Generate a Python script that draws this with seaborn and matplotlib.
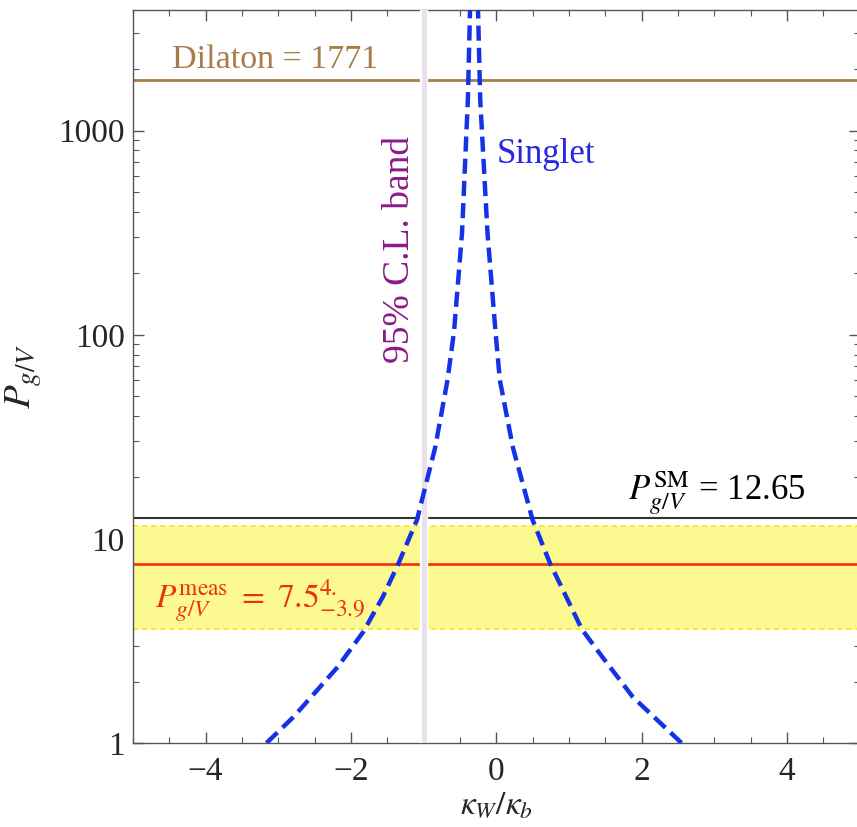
import numpy as np
import pandas as pd
import seaborn as sns
import matplotlib
matplotlib.use("Agg")
import matplotlib.pyplot as plt
from matplotlib.ticker import MultipleLocator, LogLocator, NullFormatter, FixedLocator

# ---- data ----
left_x = [-3.16, -2.79, -2.46, -2.18, -1.83, -1.56, -1.35, -1.09, -0.84, -0.67, -0.58, -0.47, -0.39, -0.36]
left_p = [1.0, 1.34, 1.82, 2.36, 3.5, 5.2, 7.5, 12.4, 28, 60, 104, 316, 1419, 3900]
right_x = [2.55, 1.88, 1.46, 1.18, 0.74, 0.50, 0.23, 0.05, -0.01, -0.12, -0.22, -0.25]
right_p = [1.0, 1.68, 2.64, 3.6, 7.6, 12.4, 28, 60, 104, 316, 1419, 3900]

p_sm = 12.65
p_dilaton = 1771
p_meas = 7.5
p_meas_up = 4.0
p_meas_dn = 3.9
cl_band_x = -1.0

x_ticks = [-4, -2, 0, 2, 4]
y_ticks = [1, 10, 100, 1000]
y_ticklabels = ["1", "10", "100", "1000"]

sns.set_style("ticks")
plt.rcParams["font.family"] = ["Liberation Serif", "DejaVu Serif"]
plt.rcParams["mathtext.fontset"] = "stix"

fig = plt.figure(figsize=(8.57, 8.27), dpi=100)
ax = fig.add_axes([0.155, 0.1016, 0.848, 0.8863])

ax.set_yscale("log")
ax.set_xlim(-5, 5)
ax.set_ylim(1, 3900)

# band
ax.axhspan(p_meas - p_meas_dn, p_meas + p_meas_up, color="#fbf98f", zorder=1, lw=0)
for yv in (p_meas - p_meas_dn, p_meas + p_meas_up):
    ax.axhline(yv, color="#f2e830", lw=1.3, ls=(0, (3, 2)), zorder=1.5)
ax.axhline(p_meas, color="#f53a10", lw=2.0, zorder=2)
ax.axhline(p_sm, color="#333333", lw=1.5, zorder=2)
ax.axhline(p_dilaton, color="#a57d4b", lw=2.0, zorder=2)
ax.axvline(cl_band_x, color="white", lw=6, zorder=3)
ax.axvline(cl_band_x, color="#e9e0ea", lw=3.5, zorder=3.5)

df_l = pd.DataFrame({"x": left_x, "P": left_p})
df_r = pd.DataFrame({"x": right_x, "P": right_p})
for d in (df_l, df_r):
    sns.lineplot(data=d, x="x", y="P", sort=False, estimator=None, ax=ax,
                 color="#1432e6", lw=3.2, linestyle=(0, (3.4, 1.6)), zorder=5)

# texts
ax.text(-4.46, 2229, "Dilaton = 1771", color="#a57d4b", fontsize=24.5, ha="left", va="center")
ax.text(0.0, 763, "Singlet", color="#2828e0", fontsize=25, ha="left", va="center")
ax.text(-1.33, 262, "95% C.L. band", color="#8b1a89", fontsize=27, rotation=90,
        ha="center", va="center")
ax.text(1.81, 16.8, r"$P^{\mathrm{SM}}_{g/V}$ = 12.65", color="black", fontsize=25,
        ha="left", va="center")
ax.text(-4.70, 5.0, r"$P^{\mathrm{meas}}_{g/V}\ =\ 7.5^{4.}_{-3.9}$", color="#ee3010", fontsize=24,
        ha="left", va="center")

# axes styling
ax.set_xticks(x_ticks)
ax.set_xticklabels(["\u22124", "\u22122", "0", "2", "4"])
ax.xaxis.set_minor_locator(MultipleLocator(0.5))
ax.yaxis.set_major_locator(FixedLocator(y_ticks))
ax.set_yticklabels(y_ticklabels)
ax.yaxis.set_minor_locator(LogLocator(base=10, subs=np.arange(2, 10)))
ax.yaxis.set_minor_formatter(NullFormatter())
ax.tick_params(axis="both", which="major", direction="in", length=8, width=1.0,
               color="#555555", labelsize=24, top=True, right=True)
ax.tick_params(axis="both", which="minor", direction="in", length=4, width=0.8,
               color="#555555", top=True, right=True)
ax.tick_params(axis="x", which="major", pad=10)
ax.tick_params(axis="y", which="major", pad=6)
for s in ax.spines.values():
    s.set_color("#555555")
    s.set_linewidth(1.0)
    s.set_visible(True)

ax.set_xlabel(r"$\kappa_W/\kappa_b$", fontsize=24, labelpad=2)
ax.set_ylabel(r"$P_{g/V}$", fontsize=28, labelpad=10)

fig.savefig("out.png", dpi=100)
